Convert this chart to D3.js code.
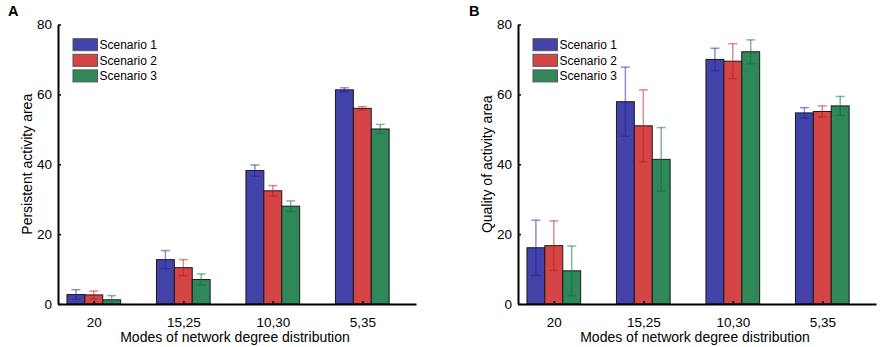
<!DOCTYPE html>
<html>
<head>
<meta charset="utf-8">
<script src="https://cdn.jsdelivr.net/npm/d3@7"></script>
<style>
  body { margin: 0; background: #fff; }
  text { font-family: "Liberation Sans", Arial, sans-serif; }
</style>
</head>
<body>
<div id="chart"></div>
<script>
/* two grouped bar panels with error bars */

const modes = ["20", "15,25", "10,30", "5,35"];
const scenarios = ["Scenario 1", "Scenario 2", "Scenario 3"];
const colors = ["#4242a9", "#d54545", "#2f875a"];
const errColors = ["#1f1fa5", "#c81818", "#0b6e3c"];
const yTicks = [0, 20, 40, 60, 80];

// panel A: persistent activity area
const persistMean = [
  [2.7, 12.7, 38.2, 61.3],
  [2.6, 10.4, 32.4, 56.0],
  [1.2, 7.0, 28.0, 50.1]
];
const persistErr = [
  [1.4, 2.6, 1.6, 0.6],
  [1.1, 2.3, 1.5, 0.5],
  [1.2, 1.6, 1.5, 1.3]
];

// panel B: quality of activity area
const qualityMean = [
  [16.1, 57.9, 70.0, 54.7],
  [16.7, 51.0, 69.5, 55.1],
  [9.5, 41.4, 72.2, 56.7]
];
const qualityErr = [
  [7.9, 9.9, 3.2, 1.5],
  [7.1, 10.3, 5.0, 1.6],
  [7.1, 9.1, 3.4, 2.7]
];

const width = 880, height = 347;

const svg = d3.select("#chart")
  .append("svg")
  .attr("width", width)
  .attr("height", height);

function panel(left, label, labelX, yTitle, means, errs) {
  const margin = {top: 24.5, bottom: 304, left: left, right: left + 358};

  // x in group units: group i sits at i+1
  const x = d3.scaleLinear()
    .domain([0.6, 4.6])
    .range([margin.left, margin.right]);

  const inner = d3.scaleBand()   // offset of each scenario inside a group
    .domain(d3.range(scenarios.length))
    .range([-0.3, 0.3]);

  const y = d3.scaleLinear()
    .domain([0, 80])
    .range([margin.bottom, margin.top]);

  const g = svg.append("g");

  // bars
  const rows = [];
  means.forEach((row, s) => row.forEach((v, i) => rows.push({s, i, v, e: errs[s][i]})));

  g.selectAll(".bar")
    .data(rows)
    .join("rect")
    .attr("class", "bar")
    .attr("x", d => x(d.i + 1 + inner(d.s)))
    .attr("width", x(1 + inner.bandwidth()) - x(1))
    .attr("y", d => y(d.v))
    .attr("height", d => y(0) - y(d.v))
    .attr("fill", d => colors[d.s])
    .attr("stroke", "#1a1a1a")
    .attr("stroke-width", 1);

  // error bars
  const eb = g.selectAll(".err")
    .data(rows)
    .join("g")
    .attr("class", "err")
    .attr("stroke", d => errColors[d.s])
    .attr("stroke-opacity", 0.5)
    .attr("stroke-width", 1.5);

  const cx = d => x(d.i + 1 + inner(d.s) + inner.bandwidth() / 2);

  eb.append("line")
    .attr("x1", cx).attr("x2", cx)
    .attr("y1", d => y(d.v - d.e))
    .attr("y2", d => y(d.v + d.e));
  eb.append("line")
    .attr("x1", d => cx(d) - 4.5).attr("x2", d => cx(d) + 4.5)
    .attr("y1", d => y(d.v + d.e)).attr("y2", d => y(d.v + d.e));
  eb.append("line")
    .attr("x1", d => cx(d) - 4.5).attr("x2", d => cx(d) + 4.5)
    .attr("y1", d => y(d.v - d.e)).attr("y2", d => y(d.v - d.e));

  // axes, ticks pointing inward
  const xAxis = d3.axisBottom(x)
    .tickValues(d3.range(1, modes.length + 1))
    .tickFormat(d => modes[d - 1])
    .tickSizeInner(-3)
    .tickSizeOuter(0)
    .tickPadding(13);

  const yAxis = d3.axisLeft(y)
    .tickValues(yTicks)
    .tickSizeInner(-3)
    .tickSizeOuter(0)
    .tickPadding(6);

  const gx = g.append("g")
    .attr("transform", `translate(0,${margin.bottom})`)
    .call(xAxis);
  const gy = g.append("g")
    .attr("transform", `translate(${margin.left},0)`)
    .call(yAxis);

  for (const a of [gx, gy]) {
    a.select(".domain").attr("stroke", "#000").attr("stroke-width", 2);
    a.selectAll(".tick line").attr("stroke", "#000").attr("stroke-width", 1.5);
    a.selectAll("text").attr("font-size", 13.5).attr("fill", "#000")
      .style("font-family", '"Liberation Sans", Arial, sans-serif');
  }
  gx.selectAll("text").attr("dy", "0.71em");

  // axis titles
  g.append("text")
    .attr("x", (margin.left + margin.right) / 2 - 2)
    .attr("y", 341.5)
    .attr("text-anchor", "middle")
    .attr("font-size", 14)
    .text("Modes of network degree distribution");

  g.append("text")
    .attr("transform", `translate(${margin.left - 26.5},${(margin.top + margin.bottom) / 2}) rotate(-90)`)
    .attr("text-anchor", "middle")
    .attr("font-size", 14)
    .text(yTitle);

  // panel letter
  g.append("text")
    .attr("x", labelX)
    .attr("y", 15.5)
    .attr("font-size", 14.5)
    .attr("font-weight", "bold")
    .text(label);

  // legend
  const lg = g.selectAll(".legend")
    .data(scenarios)
    .join("g")
    .attr("class", "legend")
    .attr("transform", (d, i) => `translate(${margin.left + 15},${38.7 + i * 15.6})`);

  lg.append("rect")
    .attr("width", 24.5)
    .attr("height", 12)
    .attr("fill", (d, i) => colors[i])
    .attr("stroke", "#555")
    .attr("stroke-width", 1);

  lg.append("text")
    .attr("x", 26.5)
    .attr("y", 10.5)
    .attr("font-size", 12)
    .text(d => d);
}

panel(58, "A", 8, "Persistent activity area", persistMean, persistErr);
panel(518, "B", 469, "Quality of activity area", qualityMean, qualityErr);
</script>
</body>
</html>
